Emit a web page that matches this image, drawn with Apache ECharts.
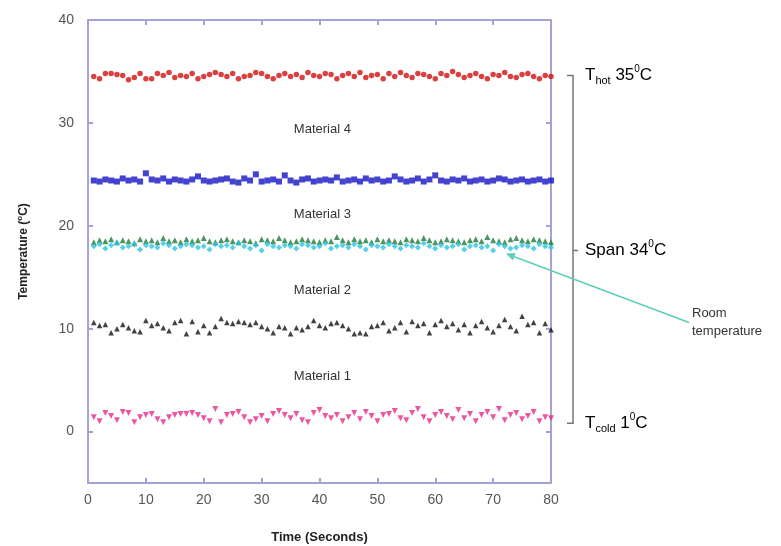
<!DOCTYPE html>
<html>
<head>
<meta charset="utf-8">
<script src="https://cdn.jsdelivr.net/npm/echarts@6/dist/echarts.min.js"></script>
<style>
  html, body { margin: 0; padding: 0; background: #fff; }
  #chart { width: 781px; height: 546px; }
</style>
</head>
<body>
<div id="chart"></div>
<script>
// time in seconds (x values)
const times = [1,2,3,4,5,6,7,8,9,10,11,12,13,14,15,16,17,18,19,20,
  21,22,23,24,25,26,27,28,29,30,31,32,33,34,35,36,37,38,39,40,
  41,42,43,44,45,46,47,48,49,50,51,52,53,54,55,56,57,58,59,60,
  61,62,63,64,65,66,67,68,69,70,71,72,73,74,75,76,77,78,79,80]

// material 4 hot side (red)
const hotRed = [34.5,34.3,34.8,34.8,34.7,34.6,34.2,34.4,34.8,34.3,34.3,34.8,34.6,34.9,34.4,34.6,34.5,34.8,34.3,34.5,
  34.7,34.9,34.7,34.5,34.8,34.3,34.5,34.6,34.9,34.8,34.5,34.3,34.6,34.8,34.5,34.7,34.4,34.9,34.6,34.5,
  34.8,34.7,34.3,34.6,34.8,34.5,34.9,34.4,34.6,34.7,34.3,34.8,34.5,34.9,34.6,34.4,34.8,34.7,34.5,34.3,
  34.8,34.6,35.0,34.7,34.4,34.6,34.8,34.5,34.3,34.7,34.6,34.9,34.5,34.4,34.7,34.8,34.5,34.3,34.6,34.5]
// between material 4 and 3 (blue)
const blue = [24.4,24.3,24.5,24.4,24.3,24.6,24.4,24.5,24.3,25.1,24.5,24.4,24.6,24.3,24.5,24.4,24.3,24.5,24.8,24.4,
  24.3,24.4,24.5,24.6,24.3,24.2,24.6,24.4,25.0,24.3,24.4,24.5,24.3,24.9,24.4,24.2,24.5,24.6,24.3,24.4,
  24.5,24.4,24.7,24.3,24.4,24.5,24.3,24.6,24.4,24.5,24.3,24.4,24.8,24.5,24.3,24.4,24.6,24.3,24.5,24.9,
  24.4,24.3,24.5,24.4,24.6,24.3,24.4,24.5,24.3,24.4,24.6,24.5,24.3,24.4,24.5,24.3,24.4,24.5,24.3,24.4]
// between material 3 and 2 (green triangles)
const green = [18.4,18.6,18.5,18.7,18.4,18.6,18.5,18.3,18.7,18.5,18.6,18.4,18.8,18.5,18.6,18.4,18.7,18.5,18.6,18.8,
  18.5,18.4,18.6,18.7,18.5,18.4,18.6,18.5,18.3,18.7,18.6,18.5,18.8,18.6,18.4,18.5,18.7,18.6,18.5,18.4,
  18.6,18.5,18.9,18.6,18.4,18.7,18.5,18.6,18.4,18.7,18.5,18.6,18.5,18.4,18.7,18.6,18.5,18.8,18.6,18.4,
  18.5,18.7,18.6,18.5,18.4,18.6,18.7,18.5,18.9,18.6,18.5,18.4,18.7,18.8,18.6,18.5,18.7,18.6,18.5,18.4]
// room temperature (cyan)
const cyan = [18.0,18.2,17.8,18.1,18.3,17.9,18.0,18.2,17.7,18.1,18.0,17.9,18.3,18.1,17.8,18.0,18.2,18.1,17.9,18.0,
  17.7,18.2,18.0,18.1,17.9,18.3,18.0,17.8,18.1,17.6,18.2,18.0,17.9,18.1,18.0,17.8,18.2,18.1,17.9,18.0,
  18.3,17.8,18.0,18.1,17.9,18.2,18.0,17.7,18.1,18.0,17.9,18.2,18.0,17.8,18.1,18.0,17.9,18.3,18.0,17.8,
  18.1,17.9,18.0,18.2,17.7,18.0,18.1,17.9,18.0,17.6,18.2,18.0,17.8,17.9,18.1,18.0,17.8,18.2,18.0,17.9]
// between material 2 and 1 (black)
const black = [10.6,10.3,10.4,9.6,10.0,10.4,10.1,9.8,9.7,10.8,10.3,10.5,10.1,9.8,10.6,10.8,9.5,10.7,9.7,10.3,
  9.6,10.2,11.0,10.6,10.5,10.7,10.6,10.4,10.6,10.2,10.0,9.6,10.2,10.1,9.5,10.1,9.9,10.2,10.8,10.3,
  10.1,10.5,10.6,10.3,10.0,9.5,9.6,9.5,10.2,10.3,10.6,9.8,10.1,10.6,9.7,10.7,10.3,10.5,9.6,10.4,
  10.8,10.2,10.5,9.9,10.4,9.6,10.3,10.7,10.1,9.7,10.3,10.9,10.2,9.8,11.2,10.4,10.6,9.6,10.5,9.9]
// material 1 cold side (magenta)
const coldPink = [1.4,1.0,1.8,1.5,1.1,1.9,1.8,0.9,1.4,1.6,1.7,1.2,0.9,1.4,1.6,1.7,1.7,1.8,1.6,1.3,
  1.0,2.2,0.9,1.6,1.7,1.9,1.4,0.9,1.2,1.5,1.0,1.7,2.0,1.6,1.3,1.7,1.1,0.9,1.8,2.1,
  1.5,1.3,1.6,1.0,1.4,1.8,1.2,1.9,1.5,1.0,1.6,1.7,2.0,1.3,1.1,1.8,2.2,1.4,1.0,1.6,
  1.9,1.5,1.2,2.1,1.3,1.7,1.0,1.6,1.9,1.4,2.2,1.1,1.6,1.8,1.2,1.5,1.9,1.0,1.4,1.3]

const yTicks = [0, 10, 20, 30, 40]
const materialLabels = ['Material 4', 'Material 3', 'Material 2', 'Material 1']
const materialPos = [[40.5, 29.4], [40.5, 21.1], [40.5, 13.7], [40.5, 5.4]]

const axisColor = '#a3a3da'
const font = 'Arial, "Liberation Sans", sans-serif'

function pairs(vals) {
  return vals.map((v, i) => [times[i], v])
}

function scatter(name, vals, color, symbol, size, rotate) {
  return {
    name: name,
    type: 'scatter',
    data: pairs(vals),
    symbol: symbol,
    symbolSize: size,
    symbolRotate: rotate || 0,
    itemStyle: { color: color },
    silent: true
  }
}

const chart = echarts.init(document.getElementById('chart'), null, { renderer: 'canvas' })

const baseAxis = {
  axisLine: { onZero: false, lineStyle: { color: axisColor, width: 2 } },
  axisTick: { inside: true, length: 5, lineStyle: { color: axisColor, width: 2 } },
  splitLine: { show: false }
}

chart.setOption({
  backgroundColor: '#fff',
  animation: false,
  textStyle: { fontFamily: font },
  grid: { left: 88, right: 230, top: 20, bottom: 63, outerBoundsMode: 'none' },
  xAxis: [
    Object.assign({}, baseAxis, {
      type: 'value', min: 0, max: 80, interval: 10, position: 'bottom',
      name: 'Time (Seconds)', nameLocation: 'middle', nameGap: 48,
      nameTextStyle: { fontWeight: 'bold', fontSize: 13, color: '#222' },
      axisLabel: { fontSize: 14, color: '#555', margin: 10 }
    }),
    Object.assign({}, baseAxis, {
      type: 'value', min: 0, max: 80, interval: 10, position: 'top',
      axisLabel: { show: false }
    })
  ],
  yAxis: [
    Object.assign({}, baseAxis, {
      type: 'value', min: -5, max: 40, position: 'left',
      name: '{a|Temperature (}{s|o}{a|C)}', nameLocation: 'middle', nameGap: 56, nameRotate: 90,
      nameTextStyle: {
        rich: {
          a: { fontWeight: 'bold', fontSize: 12, color: '#222', lineHeight: 16 },
          s: { fontWeight: 'bold', fontSize: 8, color: '#222', lineHeight: 8, verticalAlign: 'top' }
        }
      },
      axisTick: { inside: true, length: 5, customValues: yTicks, lineStyle: { color: axisColor, width: 2 } },
      axisLabel: { fontSize: 14, color: '#555', margin: 14, customValues: yTicks }
    }),
    Object.assign({}, baseAxis, {
      type: 'value', min: -5, max: 40, position: 'right',
      axisTick: { inside: true, length: 5, customValues: yTicks, lineStyle: { color: axisColor, width: 2 } },
      axisLabel: { show: false }
    })
  ],
  series: [
    scatter('hot', hotRed, '#d21010', 'circle', 5.5),
    scatter('blue', blue, '#1414c4', 'rect', 6),
    scatter('green', green, '#1f7a3a', 'triangle', 6),
    scatter('room', cyan, '#2cc3e6', 'diamond', 6),
    scatter('black', black, '#111111', 'triangle', 5.5),
    scatter('cold', coldPink, '#ea2a8a', 'triangle', 6, 180)
  ]
})

// annotations positioned from the axes
function px(x, y) { return chart.convertToPixel({ xAxisIndex: 0, yAxisIndex: 0 }, [x, y]) }

const rightX = px(80, 0)[0]
const yTop = px(0, 34.6)[1]
const yBot = px(0, 0.8)[1]
const yMid = px(0, 17.6)[1]
const bx = rightX + 22
const lineCol = '#777'

const graphics = []
materialLabels.forEach((t, i) => {
  const p = px(materialPos[i][0], materialPos[i][1])
  graphics.push({
    type: 'text', x: p[0], y: p[1],
    style: { text: t, fontSize: 13, fill: '#333', fontFamily: font, align: 'center', verticalAlign: 'middle' }
  })
})

// bracket
graphics.push({
  type: 'polyline',
  shape: { points: [[bx - 6, yTop], [bx, yTop], [bx, yBot], [bx - 6, yBot]] },
  style: { stroke: lineCol, lineWidth: 1.5, fill: null }
})
graphics.push({
  type: 'line', shape: { x1: bx, y1: yMid, x2: bx + 5, y2: yMid },
  style: { stroke: lineCol, lineWidth: 1.5 }
})

const rich = {
  a: { fontSize: 17, color: '#333', lineHeight: 22, fontFamily: font },
  sub: { fontSize: 11, color: '#555', lineHeight: 10, verticalAlign: 'bottom', fontFamily: font },
  sup: { fontSize: 10, color: '#333', lineHeight: 10, verticalAlign: 'top', fontFamily: font }
}
function rightLabel(text, y) {
  graphics.push({
    type: 'text', x: bx + 12, y: y,
    style: { text: text, rich: rich, align: 'left', verticalAlign: 'middle' }
  })
}
rightLabel('{a|T}{sub|hot}{a| 35}{sup|0}{a|C}', yTop)
rightLabel('{a|Span 34}{sup|0}{a|C}', yMid)
rightLabel('{a|T}{sub|cold}{a| 1}{sup|0}{a|C}', yBot)

// room temperature arrow
const head = px(72.2, 17.3)
const tail = [rightX + 138, px(0, 10.6)[1]]
const ang = Math.atan2(head[1] - tail[1], head[0] - tail[0])
const al = 9, aw = 4
const hb = [head[0] - al * Math.cos(ang), head[1] - al * Math.sin(ang)]
graphics.push({
  type: 'line', shape: { x1: tail[0], y1: tail[1], x2: hb[0], y2: hb[1] },
  style: { stroke: '#5fcdb8', lineWidth: 1.6 }
})
graphics.push({
  type: 'polygon',
  shape: { points: [head,
    [hb[0] + aw * Math.sin(ang), hb[1] - aw * Math.cos(ang)],
    [hb[0] - aw * Math.sin(ang), hb[1] + aw * Math.cos(ang)]] },
  style: { fill: '#5fcdb8' }
})
graphics.push({
  type: 'text', x: tail[0] + 3, y: tail[1] - 18,
  style: { text: 'Room\ntemperature', fontSize: 13, lineHeight: 18, fill: '#333', fontFamily: font, align: 'left' }
})

chart.setOption({ graphic: graphics })
</script>
</body>
</html>
